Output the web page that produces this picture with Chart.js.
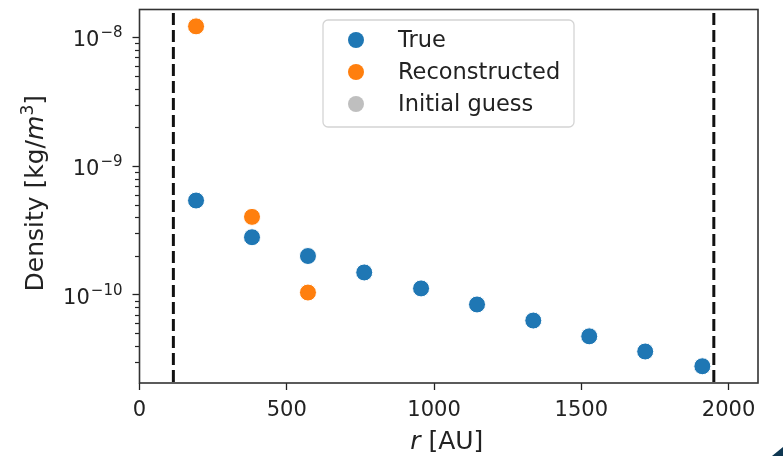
<!DOCTYPE html>
<html>
<head>
<meta charset="utf-8">
<title>Density profile</title>
<script src="https://cdn.jsdelivr.net/npm/chart.js@4/dist/chart.umd.min.js"></script>
<style>
    html, body { margin: 0; padding: 0; background: #fff; }
    #wrap { position: relative; width: 783px; height: 456px; overflow: hidden; }
    .corner {
        position: absolute; right: 0; bottom: 0; width: 0; height: 0;
        border-left: 11px solid transparent;
        border-bottom: 9px solid #0f3752;
    }
</style>
</head>
<body>
<div id="wrap">
    <canvas id="density-chart" width="783" height="456"></canvas>
    <div class="corner"></div>
</div>
<script>
// Radial grid [AU] and densities [kg/m^3]
const radiusTrue = [192, 382, 572, 763, 956, 1146, 1337, 1527, 1717, 1911];
const densityTrue = [5.4e-10, 2.8e-10, 2.0e-10, 1.49e-10, 1.12e-10, 8.4e-11, 6.3e-11, 4.75e-11, 3.62e-11, 2.78e-11];

const radiusRec = [192, 382, 572];
const densityRec = [1.22e-8, 4.03e-10, 1.04e-10];

const radiusGuess = [];
const densityGuess = [];

// Inner / outer edge of the domain
const boundaries = [115, 1950];

const xTicks = [0, 500, 1000, 1500, 2000];
const yDecades = [1e-10, 1e-9, 1e-8];
const yTickExponents = ['−10', '−9', '−8'];

const FONT = "'DejaVu Sans', sans-serif";
const TEXT = '#222';

const points = (xs, ys) => xs.map((x, i) => ({ x: x, y: ys[i] }));

const boundaryDatasets = boundaries.map(r => ({
    type: 'line',
    label: 'boundary',
    legend: false,
    data: [{ x: r, y: 1e-12 }, { x: r, y: 1e-7 }],
    borderColor: '#111',
    borderWidth: 3,
    borderDash: [12, 5],
    pointRadius: 0,
    clip: 0,
    order: 5
}));

/**
 * Log axis: short minor ticks (2..9 x each decade) and 10^n labels
 */
const logAxis = {
    id: 'logAxis',
    afterDraw(chart) {
        const y = chart.scales.y;
        const ctx = chart.ctx;
        ctx.save();
        ctx.strokeStyle = TEXT;
        ctx.lineWidth = 1.2;
        for (let d = 1e-12; d < 1e-7; d *= 10) {
            for (let k = 2; k <= 9; k++) {
                const v = k * d;
                if (v < y.min || v > y.max) continue;
                const py = Math.round(y.getPixelForValue(v)) + 0.5;
                ctx.beginPath();
                ctx.moveTo(y.right - 4.5, py);
                ctx.lineTo(y.right, py);
                ctx.stroke();
            }
        }

        // decade labels, superscript exponent
        ctx.fillStyle = TEXT;
        ctx.textBaseline = 'alphabetic';
        ctx.textAlign = 'left';
        const right = y.right - 17;
        yDecades.forEach((v, i) => {
            const py = y.getPixelForValue(v);
            ctx.font = '15px ' + FONT;
            const we = ctx.measureText(yTickExponents[i]).width;
            ctx.font = '21px ' + FONT;
            const wb = ctx.measureText('10').width;
            const x0 = right - we - wb - 1;
            ctx.fillText('10', x0, py + 9);
            ctx.font = '15px ' + FONT;
            ctx.fillText(yTickExponents[i], x0 + wb + 1, py);
        });
        ctx.restore();
    }
};

/**
 * Frame, axis titles and legend box
 */
const decorations = {
    id: 'decorations',
    afterDraw(chart) {
        const ctx = chart.ctx;
        const area = chart.chartArea;
        ctx.save();

        // frame
        ctx.strokeStyle = '#333';
        ctx.lineWidth = 1.6;
        ctx.strokeRect(area.left, area.top, area.right - area.left, area.bottom - area.top);

        const italic = 'italic 25px ' + FONT;
        const normal = '25px ' + FONT;
        const sup = '17px ' + FONT;

        // x title: italic r
        ctx.fillStyle = TEXT;
        ctx.textBaseline = 'alphabetic';
        ctx.font = italic;
        const wr = ctx.measureText('r').width;
        ctx.font = normal;
        const wrest = ctx.measureText(' [AU]').width;
        const x0 = (area.left + area.right) / 2 - 2 - (wr + wrest) / 2;
        ctx.font = italic;
        ctx.fillText('r', x0, 449);
        ctx.font = normal;
        ctx.fillText(' [AU]', x0 + wr, 449);

        // y title, rotated
        const parts = [
            ['Density [kg/', normal, 0],
            ['m', italic, 0],
            ['3', sup, -10],
            [']', normal, 0]
        ];
        let total = 0;
        parts.forEach(p => { ctx.font = p[1]; total += ctx.measureText(p[0]).width; });
        ctx.translate(43, (area.top + area.bottom) / 2 - 3);
        ctx.rotate(-Math.PI / 2);
        let px = -total / 2;
        parts.forEach(p => {
            ctx.font = p[1];
            ctx.fillText(p[0], px, p[2]);
            px += ctx.measureText(p[0]).width;
        });
        ctx.setTransform(1, 0, 0, 1, 0, 0);

        // legend
        const box = { x: 323, y: 20, w: 251, h: 107 };
        ctx.beginPath();
        ctx.roundRect(box.x, box.y, box.w, box.h, 5);
        ctx.fillStyle = 'rgba(255,255,255,0.8)';
        ctx.fill();
        ctx.strokeStyle = '#d4d4d4';
        ctx.lineWidth = 1.3;
        ctx.stroke();

        const items = chart.data.datasets.filter(ds => ds.legend !== false);
        ctx.font = '22.5px ' + FONT;
        ctx.textBaseline = 'middle';
        items.forEach((ds, i) => {
            const cy = 40 + i * 32;
            ctx.beginPath();
            ctx.arc(356, cy, 8, 0, Math.PI * 2);
            ctx.fillStyle = ds.backgroundColor;
            ctx.fill();
            ctx.fillStyle = TEXT;
            ctx.fillText(ds.label, 398, cy + 1);
        });
        ctx.restore();
    }
};

new Chart(document.getElementById('density-chart').getContext('2d'), {
    type: 'scatter',
    data: {
        datasets: [
            {
                label: 'True',
                data: points(radiusTrue, densityTrue),
                backgroundColor: '#1f77b4',
                borderColor: '#fff',
                borderWidth: 1,
                pointRadius: 8.5,
                order: 3
            },
            {
                label: 'Reconstructed',
                data: points(radiusRec, densityRec),
                backgroundColor: '#ff7f0e',
                borderColor: '#fff',
                borderWidth: 1,
                pointRadius: 8.5,
                order: 2
            },
            {
                label: 'Initial guess',
                data: points(radiusGuess, densityGuess),
                backgroundColor: 'rgba(128,128,128,0.5)',
                borderColor: '#fff',
                borderWidth: 1,
                pointRadius: 8.5,
                order: 1
            },
            ...boundaryDatasets
        ]
    },
    options: {
        responsive: false,
        animation: false,
        devicePixelRatio: 1,
        layout: { padding: { left: 0, top: 7, right: 25, bottom: 0 } },
        plugins: {
            legend: { display: false },
            tooltip: { enabled: false }
        },
        scales: {
            x: {
                type: 'linear',
                min: 0,
                max: 2100,
                afterBuildTicks: scale => { scale.ticks = xTicks.map(v => ({ value: v })); },
                afterFit: scale => {
                    scale.height = 73;
                    scale.paddingLeft = 0;
                    scale.paddingRight = 0;
                },
                ticks: {
                    font: { family: FONT, size: 21 },
                    color: TEXT,
                    padding: 8,
                    maxRotation: 0,
                    callback: value => String(value)
                },
                grid: {
                    drawOnChartArea: false,
                    tickLength: 7,
                    tickWidth: 1.3,
                    tickColor: TEXT
                },
                border: { display: false }
            },
            y: {
                type: 'logarithmic',
                min: 2.06e-11,
                max: 1.65e-8,
                afterBuildTicks: scale => { scale.ticks = yDecades.map(v => ({ value: v, major: true })); },
                afterFit: scale => {
                    scale.width = 139.5;
                    scale.paddingTop = 0;
                    scale.paddingBottom = 0;
                },
                ticks: { display: false },
                grid: {
                    drawOnChartArea: false,
                    tickLength: 7,
                    tickWidth: 1.3,
                    tickColor: TEXT
                },
                border: { display: false }
            }
        }
    },
    plugins: [logAxis, decorations]
});
</script>
</body>
</html>
